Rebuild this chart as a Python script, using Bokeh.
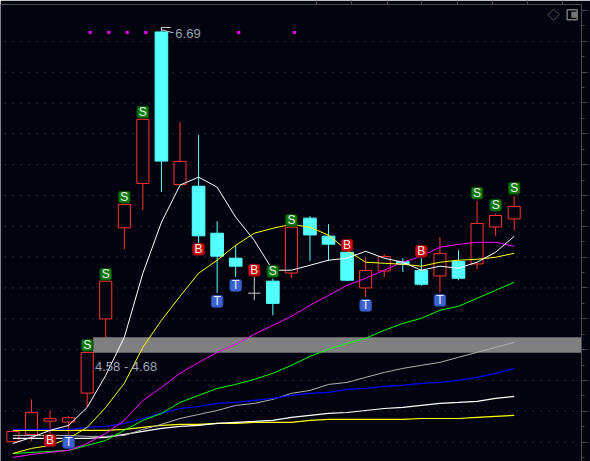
import math
from bokeh.plotting import figure
from bokeh.models import LinearAxis, FixedTicker, Range1d, CustomJSTickFormatter
from bokeh.core.properties import value
from bokeh.embed import file_html
from bokeh.resources import INLINE

# Candles: open, close, high, low
opens  = [4.0025,4.048,4.136,4.130,4.318,4.799,5.390,5.678,6.661,5.671,5.660,5.355,5.193,4.966,5.044,5.097,5.453,5.336,5.232,5.000,5.110,5.171,5.113,5.078,5.171,5.156,5.396,5.448]
closes = [4.069,4.191,4.152,4.158,4.581,5.044,5.542,6.094,5.823,5.821,5.338,5.206,5.141,4.966,4.900,5.394,5.344,5.284,5.050,5.113,5.204,5.154,5.024,5.223,5.063,5.418,5.470,5.529]
highs  = [4.069,4.277,4.204,4.167,4.581,5.044,5.542,6.094,6.690,6.076,5.992,5.433,5.277,5.071,5.061,5.394,5.466,5.414,5.245,5.197,5.219,5.193,5.193,5.329,5.245,5.563,5.483,5.596]
lows   = [4.0025,4.006,4.050,4.050,4.227,4.680,5.251,5.505,5.623,5.671,5.290,4.968,5.071,4.920,4.823,5.065,5.175,5.175,5.044,4.942,5.071,5.104,5.013,4.970,5.050,5.121,5.338,5.375]

# Moving averages
ma_white  = [3.991,4.030,4.076,4.108,4.225,4.433,4.680,5.095,5.426,5.667,5.719,5.654,5.459,5.309,5.115,5.115,5.147,5.180,5.193,5.238,5.193,5.167,5.115,5.141,5.128,5.167,5.232,5.335]
ma_yellow = [3.926,3.959,3.978,4.024,4.095,4.225,4.381,4.615,4.790,4.946,5.095,5.180,5.277,5.355,5.387,5.413,5.394,5.342,5.244,5.167,5.160,5.154,5.141,5.167,5.180,5.186,5.199,5.225]
ma_magenta= [3.900,3.920,3.933,3.946,3.991,4.056,4.141,4.270,4.355,4.446,4.517,4.582,4.634,4.699,4.757,4.816,4.887,4.952,5.017,5.063,5.115,5.167,5.206,5.264,5.283,5.296,5.296,5.270]
ma_green  = [3.926,3.933,3.939,3.946,3.978,4.011,4.076,4.141,4.186,4.257,4.303,4.348,4.374,4.407,4.446,4.498,4.556,4.602,4.641,4.673,4.725,4.770,4.803,4.855,4.881,4.933,4.985,5.037]
ma_blue   = [4.082,4.082,4.082,4.082,4.095,4.102,4.121,4.153,4.186,4.218,4.231,4.251,4.257,4.270,4.283,4.303,4.316,4.322,4.342,4.348,4.361,4.368,4.381,4.387,4.400,4.420,4.446,4.478]
ma_grey   = [4.043,4.043,4.043,4.043,4.037,4.037,4.043,4.082,4.115,4.153,4.179,4.205,4.238,4.251,4.277,4.316,4.335,4.374,4.387,4.420,4.452,4.478,4.498,4.517,4.550,4.582,4.615,4.647]
ma_long_w = [4.024,4.024,4.024,4.024,4.024,4.030,4.050,4.069,4.089,4.102,4.108,4.121,4.128,4.134,4.141,4.160,4.173,4.186,4.192,4.205,4.218,4.225,4.238,4.251,4.257,4.264,4.283,4.296]
ma_long_y = [4.076,4.076,4.076,4.076,4.076,4.076,4.082,4.095,4.108,4.115,4.115,4.121,4.121,4.128,4.128,4.128,4.141,4.147,4.147,4.147,4.147,4.147,4.153,4.153,4.153,4.160,4.167,4.173]

# Signal badges: bar index, price
s_idx = [4,5,6,7,14,15,25,26,27]
s_val = [4.628,5.089,5.589,6.141,5.108,5.439,5.615,5.537,5.647]
b_idx = [2,10,13,18,22]
b_val = [4.011,5.251,5.115,5.277,5.238]
t_idx = [3,11,12,19,23]
t_val = [3.998,4.913,5.017,4.887,4.920]

dot_idx = [4,5,6,7,12,15]
dot_val = 6.658
zone_low, zone_high = 4.58, 4.68
zone_text = "4.58 - 4.68"
high_text = "6.69"
top_ticks = [16.37,18.26,20.15,22.03,23.92,25.81,27.69,29.58]

BG = "#03030f"
RED = "#ff3333"
CYAN = "#54ffff"
AXC = "#4a4a4a"

n = len(opens)
xs = list(range(n))
p = figure(width=590, height=461, output_backend="svg", toolbar_location=None,
           x_range=Range1d(-0.668, 30.625), y_range=Range1d(3.874, 6.839),
           min_border_left=0, min_border_right=9, min_border_top=4, min_border_bottom=0,
           background_fill_color=BG, border_fill_color=BG, outline_line_color=None,
           x_axis_location=None, y_axis_location=None)
p.styles = {"position": "absolute", "left": "0", "top": "0"}
p.grid.visible = False
p.center = []

blank = CustomJSTickFormatter(code="return ''")

# axes
ra = LinearAxis(ticker=FixedTicker(ticks=[3.8+0.2*i for i in range(16)],
                                   minor_ticks=[3.9+0.2*i for i in range(16)]), formatter=blank)
ra.axis_line_color = AXC; ra.major_tick_line_color = AXC; ra.minor_tick_line_color = AXC
ra.major_tick_in = 0; ra.major_tick_out = 6; ra.minor_tick_in = 0; ra.minor_tick_out = 3
ra.major_label_standoff = 0
p.add_layout(ra, "right")
ta = LinearAxis(ticker=FixedTicker(ticks=top_ticks), formatter=blank)
ta.axis_line_color = AXC; ta.major_tick_line_color = AXC
ta.major_tick_in = 0; ta.major_tick_out = 4; ta.minor_tick_line_color = None
ta.major_label_standoff = 0
p.add_layout(ta, "above")

# dotted price grid
grid_prices = [3.8+0.2*i for i in range(16) if 3.9 < 3.8+0.2*i < 6.7]
p.segment(x0=[-0.45]*len(grid_prices), x1=[30.4]*len(grid_prices), y0=grid_prices, y1=grid_prices,
          line_color="#4a4a4a", line_width=1, line_dash="1 7")

# zone
p.quad(left=[4.32], right=[30.625], bottom=[zone_low], top=[zone_high],
       fill_color="#808080", line_color=None)

# candles
for i in xs:
    up = closes[i] >= opens[i]
    doji = closes[i] == opens[i]
    col = "#cccccc" if doji else (RED if up else CYAN)
    top, bot = max(opens[i], closes[i]), min(opens[i], closes[i])
    p.segment([i], [highs[i]], [i], [top], line_color=col, line_width=1)
    p.segment([i], [bot], [i], [lows[i]], line_color=col, line_width=1)
    if doji:
        p.segment([i-0.33], [top], [i+0.33], [top], line_color=col, line_width=1)
    else:
        p.vbar(x=[i], width=0.65 if up else 0.68, top=[top], bottom=[bot],
               fill_color=BG if up else CYAN, line_color=col, line_width=1)

# moving averages
for vals, col, lw in [(ma_long_y, "#ffff00", 1.2), (ma_long_w, "#ffffff", 1.2), (ma_grey, "#b0b0b0", 1), (ma_blue, "#0000ff", 1.2),
                      (ma_green, "#00ff00", 1), (ma_magenta, "#ff00ff", 1), (ma_yellow, "#ffff00", 1), (ma_white, "#ffffff", 1)]:
    p.line(xs, vals, line_color=col, line_width=lw)

# magenta dots
p.scatter([i+0.16 for i in dot_idx], [dot_val]*len(dot_idx), marker="square", size=3,
          fill_color="#ff00ff", line_color=None)

# badges
bw, bh = 0.31, 0.038
for idx, vals, letter, fill, edge in [(s_idx, s_val, "S", "#0a7a0a", "#064a06"),
                                      (b_idx, b_val, "B", "#cc0a0a", "#8a0505"),
                                      (t_idx, t_val, "T", "#3a62d0", "#2a4aa0")]:
    p.quad(left=[i-bw for i in idx], right=[i+bw for i in idx],
           bottom=[v-bh for v in vals], top=[v+bh for v in vals],
           fill_color=fill, line_color=edge, line_width=1, border_radius=2)
    p.text(idx, vals, text=[letter]*len(idx), text_color="#f0f0f0", text_align="center",
           text_baseline="middle", text_font=value("Liberation Sans"), text_font_size="12px")

# labels
p.text([4.42], [zone_low-0.09], text=[zone_text], text_color="#9aa5b0", text_baseline="middle",
       text_font=value("Liberation Sans"), text_font_size="13px")
p.line([8, 8, 8.5], [6.672, 6.69, 6.69], line_color="#cccccc", line_width=1)
p.line([8, 8.65], [6.675, 6.655], line_color="#cccccc", line_width=1)
p.text([8.75], [6.65], text=[high_text], text_color="#9aa5b0", text_baseline="middle",
       text_font=value("Liberation Sans"), text_font_size="13px")

# corner icons
p.scatter([29.12], [6.773], marker="square", size=8, angle=math.pi/4, fill_color=None, line_color="#555555", line_width=1)
p.scatter([30.12], [6.773], marker="square", size=10, fill_color=None, line_color="#777777", line_width=1.5)
p.scatter([30.24], [6.773], marker="square", size=6, fill_color="#777777", line_color=None)

open("out.html", "w").write(file_html(p, INLINE))
